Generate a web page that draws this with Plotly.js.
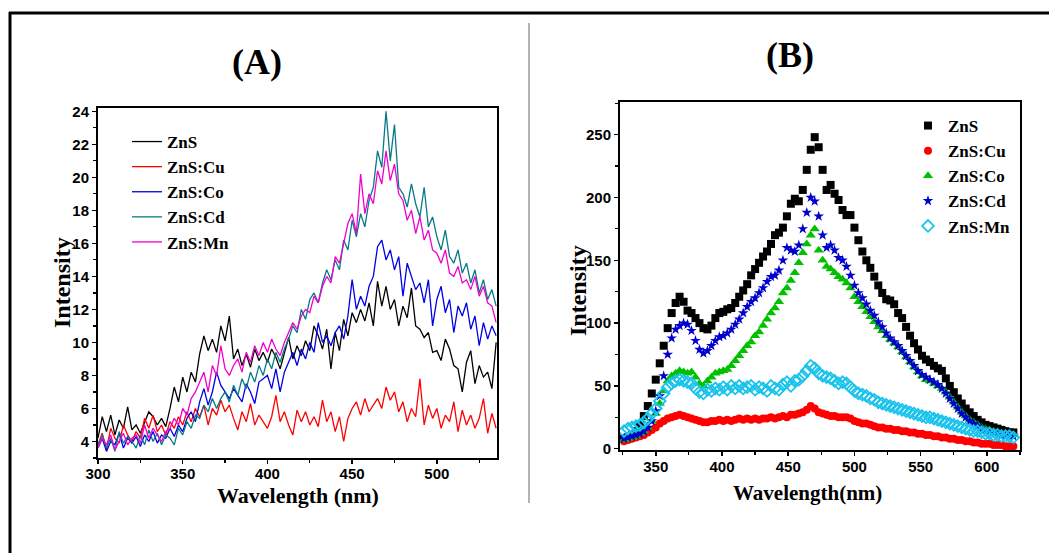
<!DOCTYPE html>
<html>
<head>
<meta charset="utf-8">
<script src="https://cdn.plot.ly/plotly-3.0.1.min.js"></script>
<style>
html,body{margin:0;padding:0;background:#fff;}
#chart{width:1049px;height:553px;}
</style>
</head>
<body>
<div id="chart"></div>
<script>
// ---------- Panel A data (wavelength nm, intensity) ----------
const waveA = [300,302.5,305,307.5,310,312.5,315,317.5,320,322.5,325,327.5,330,332.5,335,337.5,340,342.5,345,347.5,350,352.5,355,357.5,360,362.5,365,367.5,370,372.5,375,377.5,380,382.5,385,387.5,390,392.5,395,397.5,400,402.5,405,407.5,410,412.5,415,417.5,420,422.5,425,427.5,430,432.5,435,437.5,440,442.5,445,447.5,450,452.5,455,457.5,460,462.5,465,467.5,470,472.5,475,477.5,480,482.5,485,487.5,490,492.5,495,497.5,500,502.5,505,507.5,510,512.5,515,517.5,520,522.5,525,527.5,530,532.5,535];
const aZnS = [4.2,5.5,4.6,5.6,4.4,5.3,4.8,6.1,4.7, 5.0,4.5,5.2,5.8,5.5,5.0,5.4,4.9, 6.0,7.3,6.4,7.9,7.0,8.2,7.6, 9.3,10.4,9.5,10.2,9.4,11.0,10.1,11.6, 9.0,9.6,8.6,9.3,8.5,9.6,8.9,9.4, 8.8,9.6,9.1,8.4,9.3,10.3,9.0,9.8, 9.2,10.1,9.5,11.0,10.4,9.6,10.8,8.4, 10.6,9.5,11.4,10.4,11.8,11.2,12.0,11.3, 12.4,11.0,13.7,12.2,13.4,12.0,12.6,11.0, 12.2,11.5,13.3,11.0,10.8,10.3,10.6,9.4, 9.5,8.9,10.2,9.6,8.6,8.4,7.0,8.8, 9.5,7.5,8.6,7.9,8.2,7.2,10.0];
const aCu = [3.8,4.5,3.5,4.8,4.2,3.9,5.0,4.4,4.0, 4.6,4.2,5.4,4.8,5.6,4.6,5.0,4.4, 5.2,4.8,5.5,5.0,5.8,5.2,6.0, 5.5,6.2,5.0,6.0,5.6,6.5,5.8,6.2, 5.4,4.7,5.8,5.2,6.3,5.0,5.6,5.2, 4.8,5.5,6.8,5.2,5.8,5.0,4.4,5.9, 5.2,5.8,5.0,5.5,4.9,6.5,5.2,5.8, 4.6,5.5,4.0,5.4,6.0,6.4,5.6,6.6, 5.8,6.2,6.6,6.0,7.3,6.5,7.0,5.8, 6.4,5.2,6.0,5.5,7.8,5.0,6.2,5.4, 6.0,4.8,5.6,5.2,6.4,4.6,5.9,5.0, 5.6,4.8,5.4,6.6,4.5,5.7,4.8];
const aCo = [3.6,4.2,3.4,4.0,3.8,4.5,3.6,4.2,3.9, 4.3,3.7,4.4,4.0,4.6,3.9,4.4,4.2, 4.8,4.3,5.0,4.6,5.4,5.8,5.2, 6.4,7.2,6.2,7.0,8.2,7.4,7.0,6.6, 7.2,6.8,6.4,7.5,7.0,6.3,7.6,7.8, 8.0,7.2,8.4,7.0,8.2,8.8,9.4,8.6, 9.6,9.0,10.0,9.4,11.2,10.0,10.4,9.8, 10.6,11.0,10.2,11.6,13.8,12.0,12.8,12.2, 13.4,14.0,15.8,16.2,15.0,15.6,14.4,15.2, 12.8,14.8,14.0,13.2,13.6,12.4,13.8,11.0, 12.6,13.4,11.8,12.6,10.6,12.2,11.6,12.4, 10.8,11.6,9.8,11.2,10.2,11.0,10.4];
const aCd = [3.8,4.4,3.6,4.2,3.4,4.6,3.9,4.3,4.0, 3.6,4.4,3.8,4.7,4.0,4.5,3.8,4.4, 4.2,3.8,4.8,4.4,5.2,4.8,5.6, 5.4,6.2,5.8,6.6,6.0,6.6,7.0,6.4, 7.4,6.8,7.8,7.2,8.2,7.6,8.6,8.0, 9.0,8.4,9.4,8.8,9.6,10.2,11.0,10.6, 12.0,11.4,12.6,13.0,12.4,13.6,14.4,13.8, 15.0,14.4,16.2,15.6,17.4,16.4,17.8,17.0, 18.6,19.4,21.6,20.6,24.0,21.0,23.2,19.4, 19.0,18.2,19.6,18.4,17.6,19.4,17.0,17.6, 16.4,15.6,16.8,15.2,14.8,15.6,14.2,14.8, 13.6,14.4,13.0,13.8,12.6,13.2,12.2];
const aMn = [3.6,4.2,3.8,4.4,3.5,4.0,4.5,3.8,4.2, 4.4,3.9,5.0,4.2,4.8,4.4,4.0,4.6, 4.8,5.4,5.0,6.0,5.6,6.6,7.0, 7.6,8.2,7.0,8.6,8.0,9.8,8.4,8.0, 8.6,9.0,8.2,9.4,8.8,9.8,9.2,10.0, 9.4,10.2,9.6,9.2,10.0,10.6,11.2,10.8, 11.6,12.0,11.8,12.8,12.4,13.4,14.0,13.6, 15.2,14.8,16.0,17.2,17.8,16.6,20.2,17.8, 19.0,18.4,20.4,19.6,21.6,19.8,20.8,19.0, 18.6,17.4,18.0,16.6,17.6,16.2,16.8,15.6, 15.4,14.8,15.6,14.2,14.0,14.6,13.6,13.8, 13.2,14.0,12.8,13.4,12.4,12.2,11.2];

// ---------- Panel B data ----------
const waveB = [326,329,332,335,338,341,344,347,350,353,356,359,362,365,368,371,374,377,380,383,386,389,392,395,398,401,404,407,410,413,416,419,422,425,428,431,434,437,440,443,446,449,452,455,458,461,464,467,470,473,476,479,482,485,488,491,494,497,500,503,506,509,512,515,518,521,524,527,530,533,536,539,542,545,548,551,554,557,560,563,566,569,572,575,578,581,584,587,590,593,596,599,602,605,608,611,614,617,620];
const bZnS = [8,9,11,14,19,26,34,44,55,68, 82,96,108,116,121,117,110,108,104,100, 96,95,98,104,108,109,111,112,116,121, 126,131,138,143,148,153,157,163,170,172, 176,185,195,199,197,206,222,238,248,240, 222,206,210,203,198,190,186,186,176,166, 157,150,144,137,130,124,119,118,115,108, 104,97,90,84,79,74,71,69,66,64, 62,56,50,45,40,36,32,29,26,23, 21,19,18,17,16,15,14,13,13];
const bCu = [6,7,8,9,10,11,13,15,17,20, 22,24,25,26,27,26,25,24,23,22, 21,21,22,22,23,22,23,22,23,24, 23,24,23,24,23,24,24,25,24,25, 26,25,27,27,28,29,31,34,32,29, 28,27,26,26,25,25,25,24,22,21, 20,20,19,18,17,17,16,16,15,15, 14,14,13,13,12,12,11,11,10,10, 9,9,8,8,7,7,6,6,5,5, 4,4,4,3,3,3,2,2,2];
const bCo = [7,8,9,10,12,14,17,22,28,36, 46,54,58,60,62,61,60,61,57,52, 50,54,57,60,61,62,63,66,70,74, 78,82,85,90,93,98,103,108,112,117, 124,128,134,140,148,156,163,170,175,158, 150,145,143,140,137,135,132,128,121,117, 113,109,105,101,97,94,90,87,84,81, 77,73,69,65,61,58,55,54,52,50, 48,45,41,37,33,29,26,23,21,19, 17,16,15,14,13,12,12,11,11];
const bCd = [8,9,10,11,12,14,17,22,30,42, 58,75,88,95,98,100,99,94,86,79, 76,78,82,86,89,90,92,95,99,103, 108,113,117,120,124,128,133,137,138,142, 150,160,158,157,162,175,188,200,197,185, 170,160,162,158,152,150,145,138,130,124, 120,115,110,106,101,97,92,88,85,82, 78,74,70,66,62,59,57,55,53,51, 48,44,40,36,32,28,25,22,20,18, 16,15,14,13,12,11,11,10,10];
const bMn = [14,16,17,18,19,21,24,28,32,38, 44,49,52,54,55,54,53,52,48,45, 44,47,46,48,47,49,47,50,48,50, 48,49,50,47,49,48,46,50,48,47, 51,53,50,54,55,58,62,66,64,60, 58,57,56,54,52,53,52,49,46,44, 43,42,40,39,37,36,35,34,33,32, 31,30,29,28,27,26,25,25,24,23, 22,21,20,19,18,17,16,15,14,14, 13,12,12,11,11,10,10,10,9];

const seriesNames = ['ZnS','ZnS:Cu','ZnS:Co','ZnS:Cd','ZnS:Mn'];
const colorsA = ['#000000','#ff0000','#0000e6','#087a86','#f000d0'];
const colorsB = ['#000000','#ff0000','#00c000','#0000cc','#19c3ec'];
const symbolsB = ['square','circle','triangle-up','star','diamond-open'];
const sizesB = [8, 8, 9, 8, 9];

const W = 1049, H = 553;
const px = x => x / W;
const py = y => 1 - y / H;

const serif = 'Liberation Serif, Times New Roman, serif';
const sans = 'Liberation Sans, Arial, sans-serif';

const dataA = [aZnS, aCu, aCo, aCd, aMn];
const dataB = [bZnS, bCu, bCo, bCd, bMn];
const traces = [];
dataA.forEach((ys, i) => {
  traces.push({
    type: 'scatter', mode: 'lines', x: waveA, y: ys, name: seriesNames[i],
    xaxis: 'x', yaxis: 'y', legend: 'legend',
    line: {color: colorsA[i], width: 1.3}
  });
});
dataB.forEach((ys, i) => {
  traces.push({
    type: 'scatter', mode: 'markers', x: waveB, y: ys, name: seriesNames[i],
    xaxis: 'x2', yaxis: 'y2', legend: 'legend2',
    marker: {color: colorsB[i], symbol: symbolsB[i], size: sizesB[i],
             line: {color: colorsB[i], width: i === 4 ? 1.8 : 0}}
  });
});

const tickFont = {family: sans, size: 15, weight: 'bold', color: '#000'};
const minorTicks = {ticks: 'outside', ticklen: 3, tickwidth: 1.2, tickcolor: '#000'};
const baseAxis = {
  showline: true, linewidth: 2, linecolor: '#000', mirror: true,
  showgrid: false, zeroline: false, ticks: 'outside', ticklen: 4, tickwidth: 1.5,
  tickcolor: '#000', tickfont: tickFont, automargin: false
};

function titleNote(text, x, y, size, rot) {
  return {text: text, xref: 'paper', yref: 'paper', x: px(x), y: py(y),
          xanchor: 'center', yanchor: 'middle', showarrow: false, textangle: rot || 0,
          font: {family: serif, size: size, weight: 'bold', color: '#000'}};
}

const layout = {
  width: W, height: H,
  margin: {l: 0, r: 0, t: 0, b: 0},
  paper_bgcolor: '#fff', plot_bgcolor: '#fff',
  showlegend: true,
  xaxis: Object.assign({}, baseAxis, {
    domain: [px(98), px(497)], range: [300, 535.5], tick0: 300, dtick: 50,
    ticklabelstandoff: -3,
    minor: Object.assign({dtick: 25}, minorTicks)
  }),
  yaxis: Object.assign({}, baseAxis, {
    domain: [py(458), py(108)], range: [3, 24.2], tick0: 0, dtick: 2,
    minor: Object.assign({dtick: 1}, minorTicks)
  }),
  xaxis2: Object.assign({}, baseAxis, {
    anchor: 'y2',
    domain: [px(620), px(1020)], range: [323, 625], tick0: 300, dtick: 50,
    ticklabelstandoff: -2,
    minor: Object.assign({dtick: 25}, minorTicks)
  }),
  yaxis2: Object.assign({}, baseAxis, {
    anchor: 'x2',
    domain: [py(450), py(102)], range: [-1, 276], tick0: 0, dtick: 50,
    minor: Object.assign({dtick: 25}, minorTicks)
  }),
  legend: {
    x: px(127), y: py(124), xanchor: 'left', yanchor: 'top',
    bgcolor: 'rgba(0,0,0,0)', borderwidth: 0, tracegroupgap: 0,
    font: {family: serif, size: 17, weight: 'bold', color: '#000'}
  },
  legend2: {
    x: px(908), y: py(108), xanchor: 'left', yanchor: 'top',
    bgcolor: 'rgba(0,0,0,0)', borderwidth: 0, tracegroupgap: 0,
    font: {family: serif, size: 17, weight: 'bold', color: '#000'}
  },
  annotations: [
    titleNote('(A)', 257, 62, 36),
    titleNote('(B)', 790, 55, 36),
    titleNote('Wavelength (nm)', 298, 495, 22),
    titleNote('Intensity', 62, 283, 24, -90),
    titleNote('Wavelength(nm)', 807, 493, 21),
    titleNote('Intensity', 578, 291, 24, -90)
  ],
  shapes: [
    {type: 'line', xref: 'paper', yref: 'paper', x0: px(10), x1: px(10), y0: py(12), y1: py(560),
     line: {color: '#000', width: 3}},
    {type: 'line', xref: 'paper', yref: 'paper', x0: px(9), x1: px(1060), y0: py(13), y1: py(13),
     line: {color: '#000', width: 3}},
    {type: 'line', xref: 'paper', yref: 'paper', x0: px(529), x1: px(529), y0: py(23), y1: py(503),
     line: {color: '#9a9a9a', width: 1.5}}
  ]
};

Plotly.newPlot('chart', traces, layout, {staticPlot: true, displayModeBar: false});
</script>
</body>
</html>
